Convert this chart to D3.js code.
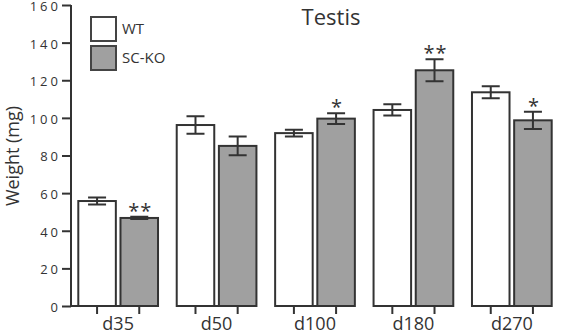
<!DOCTYPE html>
<html><head><meta charset="utf-8">
<script src="https://cdn.jsdelivr.net/npm/d3@7"></script>
<style>
html,body{margin:0;padding:0;background:#fff;}
text{font-family:"Open Sans",sans-serif;fill:#333;}
</style></head>
<body><svg id="c" width="566" height="334"></svg>
<script>
const categories = ["d35","d50","d100","d180","d270"];
const seriesNames = ["WT","SC-KO"];
const wtMean = [55.8, 96.2, 91.9, 104.2, 113.6];
const wtErr  = [1.9, 4.7, 1.8, 3.0, 3.2];
const koMean = [46.8, 85.1, 99.6, 125.3, 98.7];
const koErr  = [0.6, 5.0, 2.9, 5.8, 4.6];
const koSig  = ["**", "", "*", "**", "*"];
const yTicks = [0,20,40,60,80,100,120,140,160];

const svg = d3.select("#c");
const stroke = "#333";
const y = d3.scaleLinear().domain([0,160]).range([306,5]);
const x0 = d3.scaleBand().domain(categories).range([78.3,551.7]).paddingInner(0.19).paddingOuter(0);
const x1 = d3.scaleBand().domain(seriesNames).range([0,x0.bandwidth()]).paddingInner(0.11);
const fills = {"WT":"#ffffff","SC-KO":"#a0a0a0"};

// y axis
const yAxis = d3.axisLeft(y).tickValues(yTicks).tickSize(9).tickPadding(5);
const gy = svg.append("g").attr("transform","translate(71,0)").call(yAxis);
gy.select(".domain").attr("stroke",stroke).attr("stroke-width",2).attr("d","M0,5V306");
gy.selectAll(".tick line").attr("stroke",stroke).attr("stroke-width",2);
gy.selectAll(".tick text").style("font-family","Open Sans").style("font-size","13px").attr("fill","#444")
  .style("letter-spacing","3px").attr("x",-10).attr("dy","0.42em");

svg.append("text").attr("transform","translate(19,156) rotate(-90)").attr("text-anchor","middle")
  .style("font-size","18px").text("Weight (mg)");

svg.append("text").attr("x",331).attr("y",25).attr("text-anchor","middle").style("font-size","22px").text("Testis");

const data = categories.map((c,i)=>({c, bars:[
  {s:"WT", m:wtMean[i], e:wtErr[i], sig:""},
  {s:"SC-KO", m:koMean[i], e:koErr[i], sig:koSig[i]}]}));

const g = svg.selectAll(".grp").data(data).join("g").attr("class","grp")
  .attr("transform",d=>`translate(${x0(d.c)},0)`);

// baseline segments
g.append("line").attr("x1",(d,i)=> i===0 ? 71 - x0(d.c) : 0).attr("x2",x0.bandwidth())
  .attr("y1",y(0)).attr("y2",y(0)).attr("stroke",stroke).attr("stroke-width",2);

const b = g.selectAll(".bar").data(d=>d.bars).join("g").attr("class","bar");
b.append("rect").attr("x",d=>x1(d.s)).attr("width",x1.bandwidth())
  .attr("y",d=>y(d.m)).attr("height",d=>y(0)-y(d.m))
  .attr("fill",d=>fills[d.s]).attr("stroke",stroke).attr("stroke-width",2);
// ticks under bars
b.append("line").attr("x1",d=>x1(d.s)+x1.bandwidth()/2).attr("x2",d=>x1(d.s)+x1.bandwidth()/2)
  .attr("y1",y(0)).attr("y2",y(0)+8).attr("stroke",stroke).attr("stroke-width",2);
// error bars
const cw = 9;
b.append("path").attr("d",d=>{
  const cx = x1(d.s)+x1.bandwidth()/2, t=y(d.m+d.e), bo=y(d.m-d.e);
  return `M${cx},${t}V${bo}M${cx-cw},${t}H${cx+cw}M${cx-cw},${bo}H${cx+cw}`;
}).attr("stroke",stroke).attr("stroke-width",2).attr("fill","none");
b.filter(d=>d.sig).append("text").attr("x",d=>x1(d.s)+x1.bandwidth()/2+1)
  .attr("y",d=>y(d.m+d.e)+1).attr("text-anchor","middle").style("font-size","20px")
  .style("letter-spacing","1px").text(d=>d.sig);

// category labels
g.append("text").attr("x",x0.bandwidth()/2).attr("y",330).attr("text-anchor","middle")
  .style("font-size","18px").text(d=>d.c);

// legend
const leg = svg.append("g").selectAll("g").data(seriesNames).join("g")
  .attr("transform",(d,i)=>`translate(91,${17+i*29})`);
leg.append("rect").attr("width",25).attr("height",24).attr("fill",d=>fills[d])
  .attr("stroke","#444").attr("stroke-width",2);
leg.append("text").attr("x",31).attr("y",17).style("font-size","15px").text(d=>d);
</script></body></html>
